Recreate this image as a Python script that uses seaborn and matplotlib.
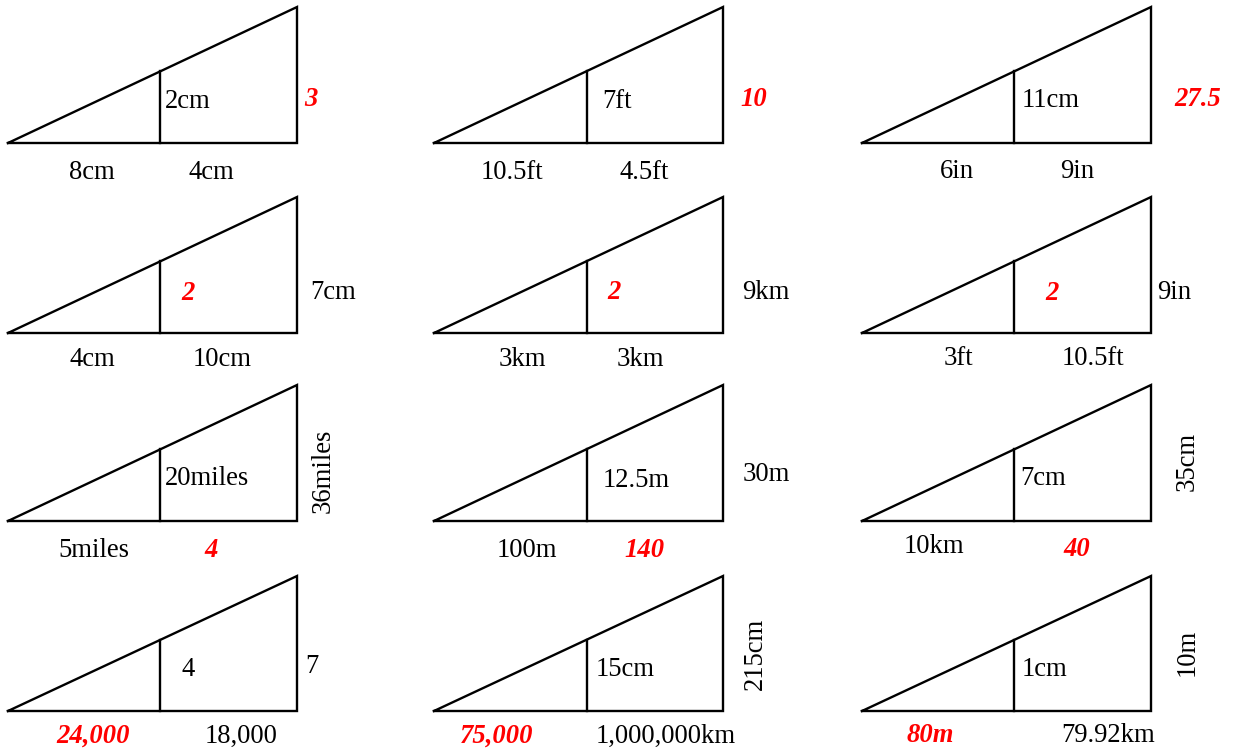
import matplotlib
matplotlib.use("Agg")
import matplotlib.pyplot as plt
import seaborn as sns
import pandas as pd

# ---------------- data (labels of the 12 similar-triangle problems) ----------------
left_base  = ["8cm", "10.5ft", "6in",
              "4cm", "3km", "3ft",
              "5miles", "100m", "10km",
              "24,000", "75,000", "80m"]
right_base = ["4cm", "4.5ft", "9in",
              "10cm", "3km", "10.5ft",
              "4", "140", "40",
              "18,000", "1,000,000km", "79.92km"]
inner_side = ["2cm", "7ft", "11cm",
              "2", "2", "2",
              "20miles", "12.5m", "7cm",
              "4", "15cm", "1cm"]
outer_side = ["3", "10", "27.5",
              "7cm", "9km", "9in",
              "36miles", "30m", "35cm",
              "7", "215cm", "10m"]
# which label is the (red) answer in each problem
answer_slot = ["outer", "outer", "outer",
               "inner", "inner", "inner",
               "right", "right", "right",
               "left", "left", "left"]
outer_rotated = [False, False, False,
                 False, False, False,
                 True, False, True,
                 False, True, True]

# ---------------- layout (pixel coordinates) ----------------
W, H = 1233, 751
col_left  = [8, 434, 862]
col_right = [297, 723, 1151]
col_vert  = [160, 587, 1014]
row_base  = [143, 333, 521, 711]
row_top   = [7, 197, 385, 576]

# text anchors: (x center, baseline y)
left_pos  = [(92, 179), (512, 179), (957, 178),
             (92, 366), (522, 366), (958, 365),
             (94, 557), (527, 557), (934, 553),
             (93, 743), (497, 743), (930, 742)]
right_pos = [(211, 179), (644, 179), (1077, 178),
             (222, 366), (640, 366), (1093, 365),
             (211, 557), (644, 557), (1077, 556),
             (241, 743), (666, 743), (1108, 742)]
inner_pos = [(188, 108), (617, 108), (1051, 107),
             (188, 300), (614, 299), (1052, 300),
             (207, 485), (636, 487), (1043, 485),
             (188, 676), (625, 676), (1045, 676)]
outer_pos = [(311, 106), (754, 106), (1198, 106),
             (333, 299), (766, 299), (1174, 299),
             (323, 471), (766, 481), (1187, 461),
             (312, 673), (755, 654), (1187, 652)]

BLACK = "#000000"
RED = "#ff0000"
FS = 19.2
FAMILY = ["Liberation Serif", "DejaVu Serif"]

sns.set_theme(style="white")
plt.rcParams["font.family"] = FAMILY

fig = plt.figure(figsize=(W / 100, H / 100), dpi=100)
ax = fig.add_axes([0, 0, 1, 1])

# build line geometry
rows = []
for i in range(12):
    r, c = divmod(i, 3)
    xl, xr, xv = col_left[c], col_right[c], col_vert[c]
    yb, yt = row_base[r], row_top[r]
    yv = yb - (xv - xl) / (xr - xl) * (yb - yt)
    outline = [(xl, yb), (xr, yb), (xr, yt), (xl, yb)]
    for k, (x, y) in enumerate(outline):
        rows.append(dict(x=x, y=y, unit=f"o{i}", order=k))
    for k, (x, y) in enumerate([(xv, yb), (xv, yv)]):
        rows.append(dict(x=x, y=y, unit=f"v{i}", order=k))
df = pd.DataFrame(rows)

sns.lineplot(data=df, x="x", y="y", units="unit", estimator=None, sort=False,
             color=BLACK, linewidth=1.7, ax=ax, legend=False)
for ln in ax.lines:
    ln.set_solid_joinstyle("miter")
    ln.set_solid_capstyle("projecting")
ax.set_xlim(0, W)
ax.set_ylim(H, 0)
ax.axis("off")


def put(txt, pos, is_answer, rotated=False):
    kw = dict(fontsize=FS, family=FAMILY)
    if is_answer:
        kw.update(color=RED, fontweight="bold", fontstyle="italic")
    else:
        kw.update(color=BLACK)
    if rotated:
        ax.text(pos[0], pos[1], txt, rotation=90, ha="center", va="center", **kw)
    else:
        ax.text(pos[0], pos[1], txt, ha="center", va="baseline", **kw)


for i in range(12):
    put(left_base[i], left_pos[i], answer_slot[i] == "left")
    put(right_base[i], right_pos[i], answer_slot[i] == "right")
    put(inner_side[i], inner_pos[i], answer_slot[i] == "inner")
    put(outer_side[i], outer_pos[i], answer_slot[i] == "outer", outer_rotated[i])

fig.savefig("out.png", dpi=100, facecolor="white")
